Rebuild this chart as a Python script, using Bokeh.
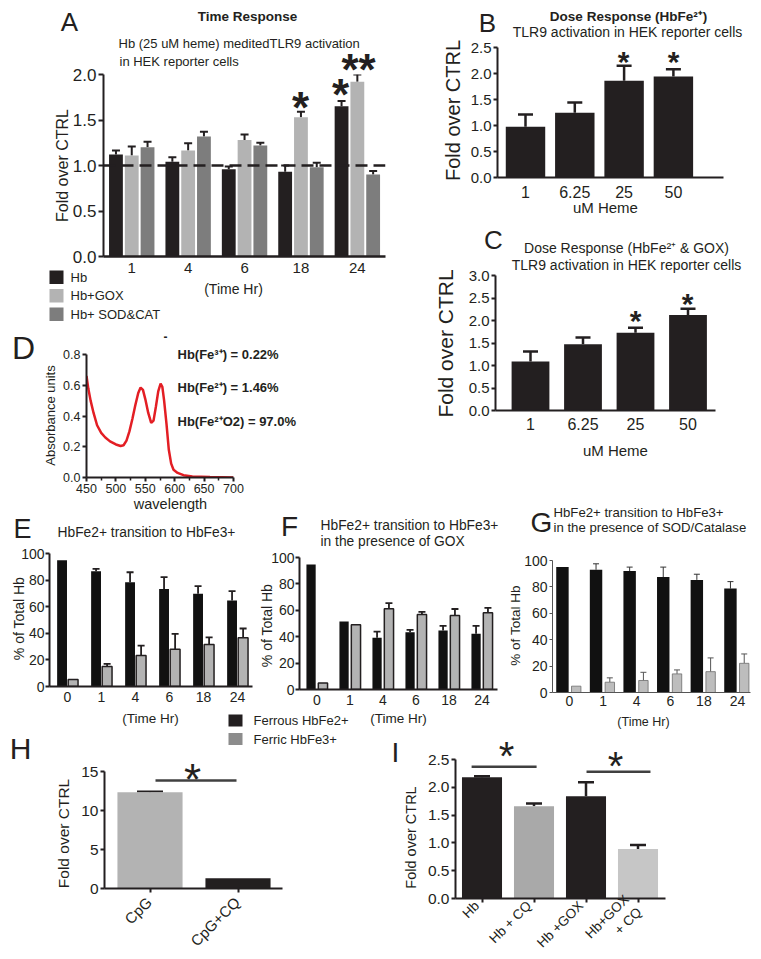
import math
from bokeh.plotting import figure
from bokeh.models import (Range1d, Label, Whisker, ColumnDataSource, TeeHead, Span,
                          FixedTicker, PrintfTickFormatter)
from bokeh.embed import file_html
from bokeh.resources import INLINE

# ---------------- data ----------------
# A: time response (fold over CTRL)
a_times = ["1", "4", "6", "18", "24"]
a_series = ["Hb", "Hb+GOX", "Hb+ SOD&CAT"]
a_hb = [1.12, 1.04, 0.96, 0.93, 1.65]
a_hb_err = [0.045, 0.05, 0.03, 0.07, 0.06]
a_gox = [1.11, 1.165, 1.28, 1.53, 1.92]
a_gox_err = [0.10, 0.08, 0.06, 0.06, 0.08]
a_sod = [1.20, 1.32, 1.22, 0.98, 0.90]
a_sod_err = [0.06, 0.05, 0.03, 0.05, 0.04]

# B: dose response HbFe2+
b_doses = ["1", "6.25", "25", "50"]
b_vals = [0.975, 1.245, 1.86, 1.94]
b_err = [0.235, 0.195, 0.29, 0.14]

# C: dose response HbFe2+ & GOX
c_doses = ["1", "6.25", "25", "50"]
c_vals = [1.09, 1.47, 1.73, 2.12]
c_err = [0.22, 0.15, 0.11, 0.14]

# D: absorbance spectrum
d_wl = [450, 453, 457, 462, 468, 475, 482, 490, 500, 508, 513, 518, 523, 528, 533, 538, 542,
        546, 550, 555, 560, 564, 568, 572, 576, 579, 582, 586, 590, 594, 598, 605, 615, 630, 660, 700]
d_abs = [0.66, 0.58, 0.50, 0.42, 0.34, 0.29, 0.26, 0.235, 0.215, 0.205, 0.21, 0.24, 0.30, 0.38,
         0.47, 0.55, 0.585, 0.57, 0.51, 0.42, 0.355, 0.37, 0.46, 0.56, 0.61, 0.59, 0.50, 0.35,
         0.18, 0.09, 0.05, 0.03, 0.015, 0.007, 0.003, 0.0]
d_notes = ["Hb(Fe\u00b3\u207a) = 0.22%", "Hb(Fe\u00b2\u207a) = 1.46%", "Hb(Fe\u00b2\u207aO2) = 97.0%"]

# E/F/G: % of total Hb
t_times = ["0", "1", "4", "6", "18", "24"]
e_ferrous = [95, 86.7, 78.4, 73.4, 69.7, 64.7]
e_ferrous_err = [0, 1.8, 7.5, 8.8, 5.7, 7.0]
e_ferric = [5.3, 15, 23.3, 28, 31.6, 36.6]
e_ferric_err = [0, 2.0, 7.5, 11.6, 5.4, 7.0]
f_ferrous = [94.7, 51.5, 39.2, 43.4, 44.7, 42.2]
f_ferrous_err = [0, 0, 4.7, 1.8, 3.5, 6.0]
f_ferric = [5, 49, 61.1, 56.8, 56, 58.1]
f_ferric_err = [0, 0, 4.3, 2.0, 5.0, 3.8]
g_ferrous = [95, 93, 92, 87.5, 85.3, 78.7]
g_ferrous_err = [0, 4.5, 3.0, 7.5, 4.3, 5.3]
g_ferric = [4.8, 7.8, 9.1, 14.1, 15.8, 22.1]
g_ferric_err = [0, 3.3, 6.2, 3.0, 10.4, 7.1]
legend_labels = ["Ferrous HbFe2+", "Ferric HbFe3+"]

# H
h_groups = ["CpG", "CpG+CQ"]
h_vals = [12.35, 1.32]
h_err = [0.1, 0.0]

# I
i_groups = ["Hb", "Hb + CQ", "Hb +GOX", "Hb+GOX\n+ CQ"]
i_vals = [2.18, 1.66, 1.84, 0.89]
i_err = [0.02, 0.05, 0.25, 0.07]

# ---------------- helpers ----------------
W, H, OFF = 745, 943, 8
FONT = "Liberation Sans"
BLACK = "#231f20"
LGRAY = "#b3b3b3"
MGRAY = "#7d7d7d"
figs = []
POS = {"position": "absolute", "left": "8px", "top": "8px"}


def panel(l, r, t, b, xr, yr):
    ml = int(round(l - OFF)); mr = int(round(W - (r - OFF)))
    mt = int(round(t - OFF)); mb = int(round(H - (b - OFF)))
    p = figure(width=W, height=H, x_range=Range1d(*xr), y_range=Range1d(*yr),
               output_backend="svg", toolbar_location=None,
               min_border_left=ml, min_border_right=mr, min_border_top=mt, min_border_bottom=mb,
               styles=POS)
    p.background_fill_color = None
    p.border_fill_color = None
    p.outline_line_color = None
    p.xgrid.visible = False
    p.ygrid.visible = False
    figs.append(p)
    return p


# overlay figure whose frame is the whole page: titles, letters, axis titles, stars, legends
ov = figure(width=W, height=H, x_range=Range1d(0, W), y_range=Range1d(0, H), output_backend="svg",
            toolbar_location=None, title=None, x_axis_location=None, y_axis_location=None,
            min_border=0, min_border_left=0, min_border_right=0, min_border_top=0, min_border_bottom=0,
            styles=POS)
ov.background_fill_color = None
ov.border_fill_color = None
ov.outline_line_color = None
ov.xgrid.visible = False
ov.ygrid.visible = False


def txt(X, Y, s, size, bold=False, align="center", angle=0.0, baseline="middle", color=BLACK, font=FONT):
    ov.add_layout(Label(x=X - OFF, y=H - (Y - OFF), x_units="screen", y_units="screen", text=s,
                        text_font=font, text_font_size=f"{size}px",
                        text_font_style="bold" if bold else "normal",
                        text_align=align, text_baseline=baseline, angle=angle, text_color=color))


def star(X, Y, size, s="*", bold=True):
    txt(X, Y + 0.2 * size, s, size, bold=bold)


def legend(labels, colors, left, top, sw, sh, pitch, text_x):
    for k, (lab, col) in enumerate(zip(labels, colors)):
        cy = top + sh / 2 + k * pitch
        ov.rect(x=[left + sw / 2 - OFF], y=[H - (cy - OFF)], width=sw, height=sh,
                fill_color=col, line_color=None)
        txt(text_x, cy, lab, 13, align="left")


def style_axis(ax, size, lw=2.0, color=BLACK, tick_out=4, standoff=3):
    ax.axis_line_width = lw
    ax.axis_line_color = color
    ax.major_tick_line_width = lw
    ax.major_tick_line_color = color
    ax.major_tick_in = 0
    ax.major_tick_out = tick_out
    ax.minor_tick_line_color = None
    ax.major_label_text_font = FONT
    ax.major_label_text_font_size = f"{size}px"
    ax.major_label_text_color = BLACK
    ax.major_label_standoff = standoff


def cat_xaxis(p, labels, size, **kw):
    ax = p.xaxis[0]
    ax.ticker = FixedTicker(ticks=list(range(len(labels))))
    ax.major_label_overrides = {i: s for i, s in enumerate(labels)}
    style_axis(ax, size, **kw)


def errbars(p, xs, vals, errs, head, lw=2.0, color=BLACK):
    keep = [i for i, e in enumerate(errs) if e > 0]
    src = ColumnDataSource(dict(x=[xs[i] for i in keep], lo=[vals[i] for i in keep],
                                hi=[vals[i] + errs[i] for i in keep]))
    p.add_layout(Whisker(source=src, base="x", lower="lo", upper="hi", line_width=lw, line_color=color,
                         upper_head=TeeHead(size=head, line_width=lw, line_color=color), lower_head=None))


# ---------------- A ----------------
sp, c0 = 56.3, 131.2
pA = panel(103, 384.5, 74, 256, ((103 - c0) / sp, (384.5 - c0) / sp), (0, 2.0))
a_colors = [BLACK, LGRAY, MGRAY]
for vals, errs, dx, col in [(a_hb, a_hb_err, -0.28, a_colors[0]),
                            (a_gox, a_gox_err, 0.0, a_colors[1]),
                            (a_sod, a_sod_err, 0.28, a_colors[2])]:
    xs = [i + dx for i in range(len(a_times))]
    pA.vbar(x=xs, top=vals, width=0.245, bottom=0, fill_color=col, line_color=None)
    errbars(pA, xs, vals, errs, 8, lw=2.0)
pA.add_layout(Span(location=1.0, dimension="width", line_dash="12 6", line_width=2.5, line_color=BLACK))
cat_xaxis(pA, a_times, 15, lw=2.5, tick_out=0, standoff=6)
style_axis(pA.yaxis[0], 17, lw=2, tick_out=5, standoff=2)
pA.yaxis[0].ticker = FixedTicker(ticks=[0, 0.5, 1.0, 1.5, 2.0])
pA.yaxis[0].formatter = PrintfTickFormatter(format="%.1f")
legend(a_series, a_colors, 49, 270, 14, 13.5, 18.5, 70)
txt(69, 21, "A", 26)
txt(247, 16, "Time Response", 13.5, bold=True)
txt(118, 43, "Hb (25 uM heme) meditedTLR9 activation", 13, align="left")
txt(119, 61, "in HEK reporter cells", 13, align="left")
txt(62, 165, "Fold over CTRL", 16, angle=math.pi / 2)
txt(233, 288, "(Time Hr)", 14)
star(300, 98, 44)
star(340, 85, 44)
star(358, 60, 44, "**")

# ---------------- B ----------------
sp, c0 = 49.3, 525
pB = panel(497, 723, 46.7, 176.7, ((497 - c0) / sp, (723 - c0) / sp), (0, 2.5))
xs = list(range(len(b_doses)))
pB.vbar(x=xs, top=b_vals, width=0.8, bottom=0, fill_color=BLACK, line_color=None)
errbars(pB, xs, b_vals, b_err, 15, lw=2.5)
cat_xaxis(pB, b_doses, 16, lw=2, tick_out=0, standoff=8)
style_axis(pB.yaxis[0], 15, lw=2, tick_out=4, standoff=2)
pB.yaxis[0].ticker = FixedTicker(ticks=[0, 0.5, 1.0, 1.5, 2.0, 2.5])
pB.yaxis[0].formatter = PrintfTickFormatter(format="%.1f")
txt(487, 22, "B", 26)
txt(628, 16, "Dose Response (HbFe\u00b2\u207a)", 13.5, bold=True)
txt(627, 31, "TLR9 activation in HEK reporter cells", 14)
txt(452, 110, "Fold over CTRL", 20, angle=math.pi / 2)
txt(607, 207, "uM  Heme", 15)
star(623, 55, 30)
star(673, 55, 30)

# ---------------- C ----------------
sp, c0 = 52.5, 530
pC = panel(495, 715, 275, 410, ((495 - c0) / sp, (715 - c0) / sp), (0, 3.0))
xs = list(range(len(c_doses)))
pC.vbar(x=xs, top=c_vals, width=0.72, bottom=0, fill_color=BLACK, line_color=None)
errbars(pC, xs, c_vals, c_err, 15, lw=2.5)
cat_xaxis(pC, c_doses, 16, lw=2, tick_out=0, standoff=7)
style_axis(pC.yaxis[0], 15, lw=2, tick_out=4, standoff=2)
pC.yaxis[0].ticker = FixedTicker(ticks=[0, 0.5, 1.0, 1.5, 2.0, 2.5, 3.0])
pC.yaxis[0].formatter = PrintfTickFormatter(format="%.1f")
txt(493, 239, "C", 26)
txt(626, 247, "Dose Response (HbFe\u00b2\u207a & GOX)", 14)
txt(626, 264, "TLR9 activation in HEK reporter cells", 14)
txt(445, 343, "Fold over CTRL", 21, angle=math.pi / 2)
txt(617, 450, "uM  Heme", 15)
star(635, 314, 30)
star(687, 297, 30)

# ---------------- D ----------------
pD = panel(86, 233, 354, 477, (450, 700), (0, 0.8))
pD.line(d_wl, d_abs, line_color="#e31e24", line_width=2.5)
style_axis(pD.xaxis[0], 12.5, lw=2, tick_out=4, standoff=2)
style_axis(pD.yaxis[0], 12.5, lw=2, tick_out=4, standoff=2)
pD.xaxis[0].ticker = FixedTicker(ticks=[450, 500, 550, 600, 650, 700], minor_ticks=[475, 525, 575, 625, 675])
pD.xaxis[0].minor_tick_line_color = BLACK
pD.xaxis[0].minor_tick_line_width = 1.5
pD.xaxis[0].minor_tick_out = 3
pD.xaxis[0].minor_tick_in = 0
pD.yaxis[0].ticker = FixedTicker(ticks=[0, 0.2, 0.4, 0.6, 0.8])
pD.yaxis[0].formatter = PrintfTickFormatter(format="%.1f")
txt(23, 347, "D", 32)
txt(165, 336, "-", 12, bold=True)
for note, yy in zip(d_notes, [354, 387, 421]):
    txt(177, yy, note, 13, bold=True, align="left")
txt(50, 415, "Absorbance units", 13, angle=math.pi / 2)
txt(170, 503, "wavelength", 14.5)


# ---------------- E / F / G ----------------
def pct_panel(l, r, t, b, c0, sp, ferrous, ferrous_err, ferric, ferric_err, dx_b, w_b, dx_g, w_g,
              light=False):
    p = panel(l, r, t, b, ((l - c0) / sp, (r - c0) / sp), (0, 100))
    xs_b = [i + dx_b for i in range(len(t_times))]
    xs_g = [i + dx_g for i in range(len(t_times))]
    p.vbar(x=xs_b, top=ferrous, width=w_b, bottom=0, fill_color="#111111", line_color=None)
    if light:
        p.vbar(x=xs_g, top=ferric, width=w_g, bottom=0, fill_color="#bdbdbd", line_color="#6d6d6d",
               line_width=0.8)
        errbars(p, xs_b, ferrous, ferrous_err, 6, lw=1.0, color="#333333")
        errbars(p, xs_g, ferric, ferric_err, 6, lw=1.0, color="#555555")
        cat_xaxis(p, t_times, 14, lw=1, color="#555555", tick_out=0, standoff=3)
        style_axis(p.yaxis[0], 14, lw=1, color="#555555", tick_out=3, standoff=2)
    else:
        p.vbar(x=xs_g, top=ferric, width=w_g, bottom=0, fill_color=LGRAY, line_color=BLACK,
               line_width=1.5)
        errbars(p, xs_b, ferrous, ferrous_err, 7, lw=1.8)
        errbars(p, xs_g, ferric, ferric_err, 7, lw=1.8)
        cat_xaxis(p, t_times, 14, lw=2, tick_out=0, standoff=5)
        style_axis(p.yaxis[0], 14, lw=2, tick_out=4, standoff=1)
    p.yaxis[0].ticker = FixedTicker(ticks=[0, 20, 40, 60, 80, 100])
    return p


pE = pct_panel(49, 252, 553, 686, 67, 34, e_ferrous, e_ferrous_err, e_ferric, e_ferric_err,
               -0.16, 0.29, 0.165, 0.29)
txt(22, 528, "E", 27)
txt(57, 532, "HbFe2+ transition to HbFe3+", 13.8, align="left")
txt(18, 618, "% of Total Hb", 14, angle=math.pi / 2)
txt(150, 718, "(Time Hr)", 13.5)

pF = pct_panel(299, 497, 557, 689, 316.5, 33.0, f_ferrous, f_ferrous_err, f_ferric, f_ferric_err,
               -0.18, 0.28, 0.18, 0.28)
txt(289, 526, "F", 28)
txt(320, 525, "HbFe2+ transition to HbFe3+", 13.8, align="left")
txt(320, 541, "in the presence of GOX", 13.8, align="left")
txt(266, 625, "% of Total Hb", 14, angle=math.pi / 2)
txt(398, 718, "(Time Hr)", 13.5)
legend(legend_labels, [BLACK, "#8c8c8c"], 228, 714, 14, 12, 18.5, 253)

pG = pct_panel(552, 750, 559.5, 692, 569, 33.6, g_ferrous, g_ferrous_err, g_ferric, g_ferric_err,
               -0.21, 0.37, 0.2, 0.28, light=True)
txt(541, 522, "G", 28)
txt(553, 512, "HbFe2+ transition to HbFe3+", 13.2, align="left")
txt(553, 527, "in the presence of SOD/Catalase", 13.2, align="left")
txt(515, 625, "% of Total Hb", 13.5, angle=math.pi / 2)
txt(643, 721, "(Time Hr)", 12.5)

# ---------------- H ----------------
sp, c0 = 88, 149.5
pH = panel(104, 282, 771, 888, ((104 - c0) / sp, (282 - c0) / sp), (0, 15))
xs = list(range(len(h_groups)))
pH.vbar(x=xs, top=h_vals, width=0.74, bottom=0, fill_color=[LGRAY, BLACK], line_color=None)
errbars(pH, xs, h_vals, h_err, 26, lw=2)
cat_xaxis(pH, ["", ""], 1, lw=2, tick_out=4, standoff=0)
style_axis(pH.yaxis[0], 15.5, lw=2, tick_out=4, standoff=2)
pH.yaxis[0].ticker = FixedTicker(ticks=[0, 5, 10, 15])
pH.segment(x0=[0.0625], y0=[13.85], x1=[0.983], y1=[13.85], line_color="#404040", line_width=2.5)
for i, g in enumerate(h_groups):
    txt(c0 + i * sp - 1, 888 + 11, g, 15, align="right", angle=math.pi / 4)
txt(20, 748, "H", 30)
txt(63, 833, "Fold over CTRL", 15.5, angle=math.pi / 2)
star(192, 770, 44, bold=False)

# ---------------- I ----------------
sp, c0 = 52, 481.5
pI = panel(455, 665, 759, 898, ((455 - c0) / sp, (665 - c0) / sp), (0, 2.5))
xs = list(range(len(i_groups)))
pI.vbar(x=xs, top=i_vals, width=0.77, bottom=0, fill_color=[BLACK, "#a9a9a9", BLACK, "#c6c6c6"],
        line_color=None)
errbars(pI, xs, i_vals, i_err, 16, lw=2.5)
cat_xaxis(pI, ["", "", "", ""], 1, lw=2, tick_out=4, standoff=0)
style_axis(pI.yaxis[0], 15.5, lw=2, tick_out=4, standoff=2)
pI.yaxis[0].ticker = FixedTicker(ticks=[0, 0.5, 1.0, 1.5, 2.0, 2.5])
pI.yaxis[0].formatter = PrintfTickFormatter(format="%.1f")
pI.segment(x0=[-0.20, 2.01], y0=[2.37, 2.28], x1=[1.05, 3.24], y1=[2.37, 2.28],
           line_color="#404040", line_width=2.5)
for i, g in enumerate(i_groups):
    txt(c0 + i * sp - 5, 898 + 5, g, 13.5, align="right", angle=math.pi / 4)
txt(395, 752, "I", 28)
txt(410, 837, "Fold over CTRL", 14.5, angle=math.pi / 2)
star(506, 747, 40, bold=False)
star(615, 757, 40, bold=False)

figs.append(ov)
open("out.html", "w").write(file_html(figs, INLINE))
